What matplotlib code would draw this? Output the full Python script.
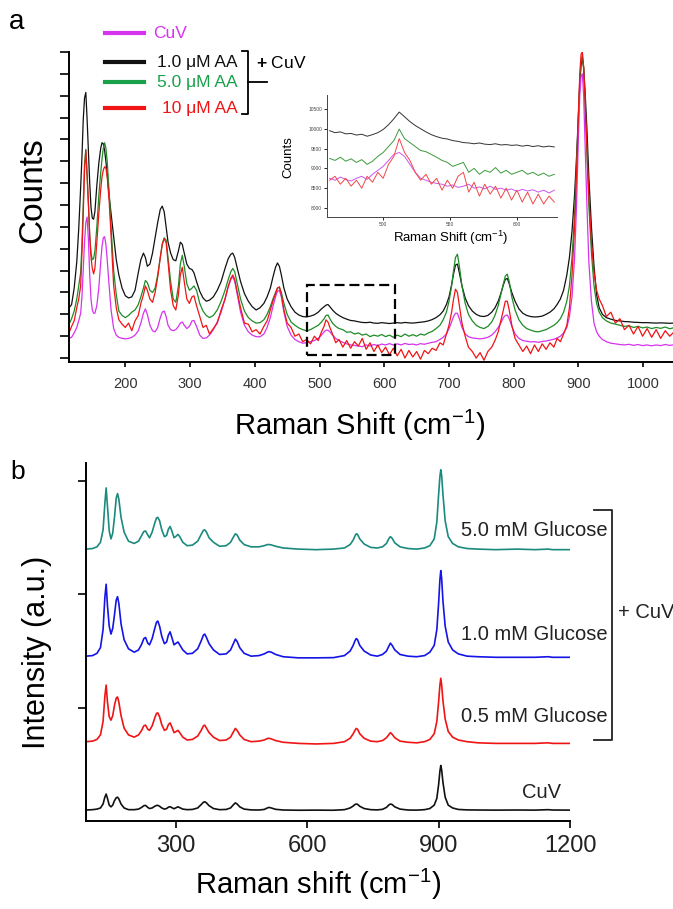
import matplotlib
matplotlib.use('Agg')
import matplotlib.pyplot as plt
from matplotlib.lines import Line2D
from matplotlib.patches import Rectangle
from matplotlib.transforms import Affine2D

plt.rcParams['font.family'] = ['Liberation Sans', 'DejaVu Sans']
plt.rcParams['mathtext.fontset'] = 'custom'
plt.rcParams['mathtext.rm'] = 'Liberation Sans'
plt.rcParams['mathtext.it'] = 'Liberation Sans:italic'
plt.rcParams['mathtext.bf'] = 'Liberation Sans:bold'

# ---------------- Panel a data (counts in thousands) ----------------
shift_a = [
    113, 117, 121, 125, 128, 131, 133, 135, 137, 139,
    141, 143, 145, 147, 149, 151, 153, 156, 159, 162,
    164, 166, 168, 170, 172, 175, 178, 182, 186, 190,
    195, 200, 205, 210, 215, 220, 224, 228, 231, 234,
    238, 242, 246, 250, 254, 257, 260, 263, 266, 270,
    274, 278, 282, 285, 288, 291, 295, 299, 303, 306,
    310, 315, 320, 325, 330, 336, 342, 348, 354, 359,
    363, 366, 369, 373, 378, 384, 390, 396, 402, 408,
    414, 419, 424, 428, 432, 435, 438, 441, 445, 450,
    456, 462, 468, 474, 480, 486, 492, 498, 503, 507,
    510, 513, 516, 520, 525, 530, 536, 542, 548, 554,
    560, 566, 572, 578, 584, 590, 596, 602, 608, 614,
    620, 626, 632, 638, 644, 650, 656, 662, 668, 674,
    680, 686, 691, 696, 700, 704, 707, 710, 713, 716,
    720, 725, 730, 736, 742, 748, 754, 760, 766, 771,
    776, 780, 784, 787, 790, 793, 797, 802, 808, 814,
    820, 826, 832, 838, 844, 850, 856, 862, 867, 872,
    877, 882, 886, 890, 894, 897, 900, 902, 904, 906,
    908, 910, 913, 916, 920, 924, 928, 932, 937, 943,
    950, 957, 964, 971, 978, 985, 992, 999, 1006, 1013,
    1020, 1027, 1034, 1041, 1046]

counts_aa1 = [
    10.29, 10.45, 11.2, 12.4, 13.9, 15.8, 17.2, 18.9, 19.9, 20.15,
    18.9, 17.5, 16.0, 14.9, 14.4, 14.35, 14.7, 15.9, 16.9, 17.6,
    17.85, 17.8, 17.5, 17.0, 16.4, 15.4, 14.6, 13.5, 12.5, 11.8,
    11.2, 10.85, 10.75, 10.8, 11.1, 11.9, 12.5, 12.8, 12.6, 12.2,
    12.3, 12.8, 13.5, 14.2, 14.8, 14.95, 14.7, 14.0, 13.3, 12.8,
    12.5, 12.45, 12.9, 13.3, 13.2, 12.8, 12.3, 12.1, 12.05, 11.9,
    11.5, 11.05, 10.75, 10.6, 10.65, 10.8, 11.1, 11.5, 12.1, 12.55,
    12.75, 12.8, 12.6, 12.1, 11.5, 10.95, 10.6, 10.35, 10.2, 10.3,
    10.5, 10.8, 11.2, 11.7, 12.15, 12.35, 12.2, 11.8, 11.2, 10.7,
    10.35, 10.1, 9.97, 9.9, 9.88, 9.92, 9.98, 10.1, 10.25, 10.35,
    10.42, 10.45, 10.35, 10.2, 10.05, 9.95, 9.85, 9.78, 9.72, 9.7,
    9.66, 9.63, 9.62, 9.64, 9.6, 9.59, 9.62, 9.6, 9.58, 9.6,
    9.62, 9.6, 9.63, 9.61, 9.6, 9.62, 9.64, 9.66, 9.7, 9.76,
    9.85, 9.98, 10.15, 10.45, 10.8, 11.35, 11.85, 12.25, 12.3, 11.9,
    11.3, 10.75, 10.4, 10.15, 10.0, 9.92, 9.9, 9.95, 10.1, 10.3,
    10.6, 10.95, 11.35, 11.6, 11.64, 11.4, 11.0, 10.6, 10.25, 10.05,
    9.95, 9.9, 9.88, 9.89, 9.92, 10.0, 10.1, 10.25, 10.45, 10.7,
    11.1, 11.8, 12.6, 13.8, 15.5, 17.2, 19.2, 20.5, 21.4, 21.7,
    21.3, 20.3, 18.5, 16.3, 14.0, 12.2, 10.9, 10.3, 10.0, 9.85,
    9.78, 9.72, 9.7, 9.67, 9.66, 9.64, 9.63, 9.62, 9.62, 9.61,
    9.6, 9.61, 9.6, 9.59, 9.6]

counts_aa5 = [
    9.55, 9.8, 10.15, 10.7, 11.3, 11.9, 13.2, 15.1, 16.9, 17.55,
    16.3, 15.0, 13.6, 12.8, 12.5, 12.55, 12.9, 14.0, 15.4, 16.5,
    17.1, 17.6, 17.85, 17.6, 17.0, 15.6, 14.0, 12.0, 10.9, 10.15,
    9.95, 9.85, 9.95, 10.1, 10.2, 10.45, 10.8, 11.2, 11.55, 11.45,
    11.1, 11.0, 11.2, 11.8, 12.6, 13.2, 13.5, 13.4, 12.6, 11.5,
    10.7, 10.55, 11.3, 12.3, 12.7, 12.2, 11.4, 11.1, 11.2, 11.3,
    11.1, 10.5, 10.15, 9.95, 9.85, 9.95, 10.2, 10.6, 11.1, 11.6,
    11.95, 12.1, 11.95, 11.4, 10.7, 10.15, 9.85, 9.7, 9.6, 9.62,
    9.75, 10.0, 10.35, 10.7, 11.0, 11.2, 11.25, 11.0, 10.5, 10.0,
    9.65, 9.5, 9.38, 9.3, 9.25, 9.3, 9.4, 9.5, 9.65, 9.8,
    9.95, 9.97, 9.8, 9.6, 9.45, 9.35, 9.3, 9.18, 9.2, 9.1,
    9.15, 9.05, 9.1, 8.98, 9.05, 9.0, 9.08, 8.98, 9.05, 8.95,
    9.05, 8.98, 9.1, 9.0, 9.07, 9.0, 9.1, 9.05, 9.15, 9.22,
    9.35, 9.5, 9.75, 10.1, 10.6, 11.3, 12.0, 12.6, 12.75, 12.2,
    11.3, 10.5, 10.0, 9.7, 9.5, 9.4, 9.35, 9.45, 9.65, 9.95,
    10.4, 10.9, 11.4, 11.75, 11.84, 11.5, 10.8, 10.2, 9.75, 9.5,
    9.35, 9.28, 9.22, 9.2, 9.25, 9.3, 9.4, 9.5, 9.62, 9.8,
    10.1, 10.6, 11.3, 12.6, 14.6, 16.8, 19.2, 20.7, 21.6, 21.85,
    21.2, 19.8, 17.4, 15.0, 12.8, 11.3, 10.5, 10.1, 9.85, 9.7,
    9.6, 9.55, 9.5, 9.45, 9.48, 9.4, 9.45, 9.38, 9.42, 9.35,
    9.4, 9.36, 9.42, 9.34, 9.38]

counts_aa10 = [
    9.15, 9.45, 9.7, 10.3, 10.7, 11.3, 12.8, 14.6, 16.6, 17.5,
    16.4, 15.1, 13.6, 12.6, 12.1, 11.85, 12.1, 13.3, 14.6, 15.7,
    16.3, 16.6, 16.75, 16.7, 16.3, 15.2, 13.6, 11.3, 10.3, 9.75,
    9.55, 9.4, 9.6, 9.25, 9.7, 9.95, 10.5, 10.9, 11.3, 11.1,
    10.7, 10.55, 11.0, 11.7, 12.6, 13.2, 13.45, 13.3, 12.4, 11.1,
    10.4, 10.2, 10.9, 11.8, 12.15, 11.5, 10.7, 10.5, 10.8, 10.85,
    10.4, 9.9, 9.4, 9.5, 9.1, 9.35, 9.6, 10.2, 10.7, 11.3,
    11.65, 11.8, 11.6, 11.0, 10.3, 9.6, 9.55, 9.2, 9.3, 9.1,
    9.45, 9.7, 10.2, 10.6, 10.95, 11.2, 11.25, 10.9, 10.2, 9.6,
    9.4, 9.0, 9.1, 8.75, 8.85, 8.65, 9.0, 8.8, 9.2, 9.45,
    9.75, 9.65, 9.4, 9.1, 8.7, 8.85, 8.5, 8.8, 8.45, 8.75,
    8.55, 8.9, 8.4, 8.7, 8.3, 8.6, 8.25, 8.5, 8.15, 8.45,
    8.1, 8.4, 8.0, 8.35, 8.05, 8.3, 7.95, 8.35, 8.2, 8.45,
    8.35, 8.7, 8.6, 9.1, 9.5, 10.1, 10.7, 11.15, 11.0, 10.4,
    9.6, 9.0, 8.5, 8.3, 8.0, 8.25, 7.9, 8.3, 8.5, 8.8,
    9.2, 9.7, 10.2, 10.6, 10.6, 10.2, 9.5, 8.9, 8.6, 8.3,
    8.55, 8.2, 8.6, 8.3, 8.65, 8.4, 8.7, 8.5, 8.9, 8.75,
    9.1, 9.5, 10.3, 11.8, 14.0, 16.5, 19.3, 21.0, 21.9, 22.0,
    21.3, 19.9, 17.6, 15.4, 13.3, 11.9, 11.1, 10.7, 10.4, 9.9,
    10.1, 9.6, 9.8, 9.3, 9.5, 9.1, 9.45, 9.0, 9.35, 8.95,
    9.3, 8.9, 9.25, 9.0, 9.15]

counts_cuv = [
    8.9, 8.95, 9.15, 9.4, 9.7, 10.05, 10.8, 12.0, 13.3, 14.2,
    14.45, 13.4, 11.8, 10.7, 10.2, 10.05, 10.05, 10.4, 11.2, 12.4,
    13.1, 13.5, 13.55, 13.2, 12.5, 11.3, 10.2, 9.35, 9.05, 8.95,
    8.9, 8.88, 8.9, 8.95, 9.05, 9.25, 9.6, 10.05, 10.25, 10.0,
    9.5, 9.25, 9.2, 9.4, 9.85, 10.1, 10.15, 9.9, 9.5, 9.3,
    9.25, 9.3, 9.45, 9.6, 9.65, 9.5, 9.35, 9.45, 9.7, 9.72,
    9.45, 9.05, 8.9, 8.92, 9.05, 9.3, 9.65, 10.1, 10.7, 11.25,
    11.6, 11.72, 11.5, 10.9, 10.1, 9.5, 9.2, 9.05, 8.98, 8.97,
    9.1, 9.4, 9.85, 10.35, 10.8, 11.05, 11.1, 10.8, 10.1, 9.45,
    9.05, 8.85, 8.75, 8.68, 8.7, 8.75, 8.8, 8.9, 9.05, 9.2,
    9.27, 9.28, 9.2, 9.05, 8.9, 8.8, 8.72, 8.65, 8.6, 8.58,
    8.55, 8.52, 8.6, 8.55, 8.62, 8.57, 8.64, 8.6, 8.66, 8.6,
    8.65, 8.6, 8.67, 8.62, 8.64, 8.6, 8.66, 8.63, 8.68, 8.72,
    8.75, 8.85, 8.95, 9.1, 9.35, 9.65, 9.9, 10.05, 10.05, 9.8,
    9.4, 9.1, 8.98, 8.92, 8.9, 8.88, 8.9, 8.95, 9.05, 9.2,
    9.4, 9.6, 9.85, 9.95, 9.97, 9.8, 9.45, 9.1, 8.9, 8.8,
    8.77, 8.74, 8.75, 8.72, 8.76, 8.78, 8.82, 8.86, 8.92, 9.0,
    9.15, 9.4, 9.9, 10.8, 12.6, 15.0, 18.2, 20.0, 20.9, 21.0,
    20.0, 18.0, 15.0, 12.4, 10.6, 9.6, 9.2, 9.0, 8.85, 8.75,
    8.68, 8.65, 8.62, 8.6, 8.63, 8.58, 8.62, 8.57, 8.6, 8.56,
    8.6, 8.57, 8.62, 8.58, 8.6]

# ---------------- Inset data (counts) ----------------
shift_inset = [
    460, 464, 468, 472, 476, 480, 484, 488, 492, 496,
    500, 504, 508, 512, 516, 520, 524, 528, 532, 536,
    540, 544, 548, 552, 556, 560, 564, 568, 572, 576,
    580, 584, 588, 592, 596, 600, 604, 608, 612, 616,
    620, 624, 628]
inset_aa1 = [
    9950, 9900, 9920, 9870, 9880, 9840, 9860, 9810, 9850, 9900,
    9980, 10100, 10250, 10420, 10300, 10180, 10080, 10000, 9920, 9850,
    9800, 9760, 9740, 9700, 9680, 9650, 9640, 9620, 9640, 9610,
    9600, 9620, 9590, 9600, 9580, 9590, 9560, 9580, 9550, 9570,
    9540, 9560, 9540]
inset_aa5 = [
    9250, 9200, 9280, 9180, 9240, 9150, 9220, 9100, 9180, 9300,
    9400, 9550, 9700, 9990, 9750, 9650, 9550, 9450, 9420, 9350,
    9280, 9200, 9150, 9050, 9100, 9150, 8900, 9000, 8850, 8950,
    8900, 9020, 8880, 8950, 8850, 8900, 8950, 8850, 8900, 8820,
    8880, 8800, 8850]
inset_aa10 = [
    8700, 8800, 8600, 8750, 8550, 8700, 8500, 8800, 8650, 8900,
    8750, 9100, 9300, 9750, 9400, 9200, 8900, 8700, 8850, 8600,
    8750, 8450, 8700, 8500, 8800, 8900, 8400, 8650, 8300, 8600,
    8350, 8550, 8250, 8500, 8200, 8450, 8150, 8400, 8100, 8350,
    8100, 8300, 8150]
inset_cuv = [
    8750, 8700, 8780, 8720, 8680, 8750, 8800, 8720, 8850, 8950,
    9050, 9200, 9350, 9400, 9300, 9100, 8900, 8750, 8700, 8650,
    8620, 8600, 8550, 8580, 8520, 8550, 8600, 8500, 8530, 8480,
    8550, 8470, 8500, 8450, 8480, 8420, 8470, 8430, 8460, 8400,
    8450, 8380, 8450]

# ---------------- Panel b data (a.u.) ----------------
shift_b = [
    95, 110, 120, 128, 134, 138, 141, 144, 148, 152,
    156, 160, 164, 167, 170, 175, 182, 192, 205, 215,
    222, 227, 231, 236, 240, 246, 252, 256, 259, 263,
    268, 274, 279, 283, 287, 291, 296, 301, 305, 309,
    316, 326, 338, 350, 358, 363, 366, 370, 376, 386,
    400, 415, 425, 432, 436, 440, 446, 456, 472, 490,
    502, 509, 513, 518, 528, 545, 580, 620, 660, 685,
    698, 705, 709, 712, 715, 720, 730, 745, 760, 772,
    781, 786, 790, 794, 800, 812, 830, 850, 868, 880,
    890, 896, 900, 903, 905, 907, 910, 915, 922, 932,
    945, 965, 990, 1030, 1080, 1120, 1150, 1160, 1200]

int_cuv = [
    0.097, 0.10, 0.105, 0.115, 0.15, 0.21, 0.238, 0.20, 0.14, 0.125,
    0.14, 0.18, 0.205, 0.21, 0.195, 0.15, 0.115, 0.10, 0.10, 0.105,
    0.12, 0.135, 0.138, 0.12, 0.11, 0.115, 0.13, 0.137, 0.138, 0.13,
    0.115, 0.105, 0.11, 0.122, 0.126, 0.118, 0.108, 0.118, 0.125, 0.118,
    0.105, 0.10, 0.102, 0.115, 0.145, 0.165, 0.17, 0.16, 0.135, 0.11,
    0.10, 0.102, 0.115, 0.145, 0.16, 0.15, 0.125, 0.105, 0.098, 0.097,
    0.102, 0.115, 0.12, 0.115, 0.103, 0.097, 0.095, 0.096, 0.095, 0.10,
    0.115, 0.132, 0.145, 0.15, 0.147, 0.13, 0.11, 0.10, 0.098, 0.103,
    0.12, 0.14, 0.15, 0.145, 0.125, 0.105, 0.097, 0.096, 0.10, 0.11,
    0.14, 0.20, 0.32, 0.44, 0.49, 0.45, 0.34, 0.21, 0.14, 0.115,
    0.102, 0.098, 0.097, 0.096, 0.097, 0.096, 0.10, 0.097, 0.096]

int_g05 = [
    0.70, 0.705, 0.72, 0.76, 0.88, 1.10, 1.20, 1.05, 0.92, 0.89,
    0.93, 1.02, 1.085, 1.095, 1.05, 0.93, 0.82, 0.76, 0.74, 0.76,
    0.80, 0.84, 0.846, 0.81, 0.80, 0.84, 0.91, 0.95, 0.954, 0.92,
    0.85, 0.80, 0.81, 0.85, 0.866, 0.83, 0.78, 0.79, 0.80, 0.78,
    0.74, 0.715, 0.72, 0.75, 0.80, 0.84, 0.846, 0.82, 0.78, 0.74,
    0.71, 0.715, 0.74, 0.79, 0.817, 0.80, 0.76, 0.72, 0.70, 0.705,
    0.715, 0.728, 0.73, 0.725, 0.71, 0.695, 0.685, 0.68, 0.685, 0.70,
    0.73, 0.77, 0.80, 0.817, 0.81, 0.77, 0.73, 0.705, 0.70, 0.71,
    0.735, 0.76, 0.78, 0.765, 0.735, 0.705, 0.695, 0.69, 0.70, 0.72,
    0.77, 0.88, 1.05, 1.20, 1.26, 1.20, 1.06, 0.90, 0.79, 0.74,
    0.715, 0.70, 0.69, 0.685, 0.685, 0.685, 0.69, 0.685, 0.685]

int_g10 = [
    1.455, 1.46, 1.48, 1.53, 1.69, 1.97, 2.09, 1.90, 1.72, 1.65,
    1.70, 1.82, 1.95, 1.98, 1.92, 1.74, 1.60, 1.52, 1.49, 1.51,
    1.56, 1.61, 1.62, 1.57, 1.555, 1.61, 1.70, 1.755, 1.765, 1.72,
    1.63, 1.565, 1.58, 1.64, 1.67, 1.62, 1.555, 1.57, 1.58, 1.555,
    1.51, 1.475, 1.48, 1.52, 1.59, 1.64, 1.65, 1.62, 1.565, 1.51,
    1.47, 1.475, 1.51, 1.57, 1.605, 1.585, 1.53, 1.48, 1.455, 1.46,
    1.475, 1.49, 1.495, 1.49, 1.47, 1.45, 1.44, 1.44, 1.442, 1.46,
    1.50, 1.55, 1.59, 1.61, 1.60, 1.55, 1.50, 1.465, 1.455, 1.47,
    1.50, 1.54, 1.57, 1.55, 1.51, 1.47, 1.455, 1.45, 1.46, 1.49,
    1.55, 1.69, 1.92, 2.13, 2.21, 2.14, 1.94, 1.72, 1.58, 1.51,
    1.475, 1.455, 1.45, 1.445, 1.445, 1.445, 1.45, 1.445, 1.445]

int_g50 = [
    2.40, 2.405, 2.42, 2.46, 2.57, 2.80, 2.94, 2.78, 2.56, 2.49,
    2.54, 2.68, 2.85, 2.89, 2.84, 2.68, 2.55, 2.47, 2.45, 2.47,
    2.52, 2.555, 2.56, 2.525, 2.50, 2.55, 2.63, 2.675, 2.68, 2.65,
    2.57, 2.51, 2.52, 2.575, 2.60, 2.56, 2.50, 2.515, 2.53, 2.51,
    2.46, 2.43, 2.435, 2.47, 2.53, 2.565, 2.57, 2.55, 2.50, 2.46,
    2.425, 2.43, 2.46, 2.51, 2.535, 2.525, 2.48, 2.44, 2.42, 2.42,
    2.43, 2.44, 2.44, 2.437, 2.425, 2.41, 2.40, 2.395, 2.40, 2.41,
    2.44, 2.48, 2.515, 2.535, 2.53, 2.49, 2.445, 2.415, 2.41, 2.42,
    2.45, 2.49, 2.51, 2.495, 2.455, 2.42, 2.405, 2.40, 2.41, 2.43,
    2.49, 2.64, 2.88, 3.04, 3.10, 3.05, 2.88, 2.65, 2.51, 2.45,
    2.42, 2.405, 2.40, 2.395, 2.40, 2.395, 2.40, 2.395, 2.395]

labels_a = ['CuV', '1.0 \u03bcM AA', '5.0 \u03bcM AA', '10 \u03bcM AA']
labels_b = ['5.0 mM Glucose', '1.0 mM Glucose', '0.5 mM Glucose', 'CuV']

C_MAG = '#D633EE'
C_GRN = '#1E8C26'
C_GRN_T = '#1AA04A'
C_RED = '#F01414'
C_BLK = '#111111'
C_TEAL = '#1B8A7E'
C_BLUE = '#1414E6'

W, H = 673, 909
fig = plt.figure(figsize=(W / 100, H / 100), dpi=100)
pxT = Affine2D().scale(1 / W, -1 / H).translate(0, 1) + fig.transFigure


def frac(l, t, r, b):
    return [l / W, 1 - b / H, (r - l) / W, (b - t) / H]


def pline(xs, ys, **kw):
    fig.add_artist(Line2D(xs, ys, transform=pxT, **kw))


def ptext(x, y, s, **kw):
    fig.text(x, y, s, transform=pxT, **kw)


# ---------------- Panel a ----------------
ax = fig.add_axes(frac(69, 52, 673, 362))
ax.plot(shift_a, counts_aa1, color=C_BLK, lw=0.9)
ax.plot(shift_a, counts_aa5, color=C_GRN, lw=0.9)
ax.plot(shift_a, counts_cuv, color=C_MAG, lw=0.9)
ax.plot(shift_a, counts_aa10, color=C_RED, lw=0.9)
ax.set_xlim(113, 1046)
ax.set_ylim(7.82, 22.0)
ax.set_xticks([200, 300, 400, 500, 600, 700, 800, 900, 1000])
ax.set_yticks(list(range(8, 23)))
ax.set_yticklabels([])
ax.tick_params(axis='y', direction='out', length=6.5, width=1.2)
ax.tick_params(axis='x', direction='out', length=3.5, width=1.2,
               labelsize=10.5, labelcolor='#333333', pad=7)
for s in ['top', 'right']:
    ax.spines[s].set_visible(False)
for s in ['left', 'bottom']:
    ax.spines[s].set_linewidth(1.4)
ax.add_patch(Rectangle((480, 8.14), 137, 3.2, fill=False, lw=1.6,
                       ls=(0, (4.5, 2.2)), ec='black', zorder=5))

ptext(360, 425, 'Raman Shift (cm$^{-1}$)', fontsize=21, ha='center', va='center')
ptext(33, 190, 'Counts', fontsize=24, rotation=90, ha='center', va='center')
ptext(17, 22, 'a', fontsize=20, ha='center', va='center')

# legend (manual)
leg_y = [33, 62, 82, 108]
leg_c = [C_MAG, C_BLK, C_GRN_T, C_RED]
for yy, cc in zip(leg_y, leg_c):
    pline([105, 144], [yy, yy], color=cc, lw=3)
ptext(153, 33, labels_a[0], color=C_MAG, fontsize=12.5, ha='left', va='center')
ptext(238, 62, labels_a[1], color=C_BLK, fontsize=12.5, ha='right', va='center')
ptext(238, 82, labels_a[2], color=C_GRN_T, fontsize=12.5, ha='right', va='center')
ptext(238, 108, labels_a[3], color=C_RED, fontsize=12.5, ha='right', va='center')
pline([242, 248, 248, 242], [51, 51, 114, 114], color='black', lw=1.3)
pline([248, 267], [82, 82], color='black', lw=1.3)
ptext(256, 63, '$\\mathbf{+}$ CuV', fontsize=12.5, ha='left', va='center')

# ---------------- Inset ----------------
axi = fig.add_axes(frac(327, 95, 557, 217))
axi.plot(shift_inset, inset_aa1, color='#333333', lw=0.7)
axi.plot(shift_inset, inset_aa5, color='#3C9A3C', lw=0.7)
axi.plot(shift_inset, inset_cuv, color='#CC55EE', lw=0.7)
axi.plot(shift_inset, inset_aa10, color='#F04848', lw=0.7)
axi.set_xlim(458, 630)
axi.set_ylim(7773, 10850)
axi.set_xticks([500, 550, 600])
axi.set_yticks([8000, 8500, 9000, 9500, 10000, 10500])
axi.tick_params(labelsize=3.5, length=2, width=0.6, pad=1.5, labelcolor='#444444')
for s in ['top', 'right']:
    axi.spines[s].set_visible(False)
for s in ['left', 'bottom']:
    axi.spines[s].set_linewidth(0.7)
    axi.spines[s].set_color('#444444')
axi.patch.set_alpha(0)
ptext(451, 238, 'Raman Shift (cm$^{-1}$)', fontsize=9.5, ha='center', va='center')
ptext(288, 157, 'Counts', fontsize=9.5, rotation=90, ha='center', va='center')

# ---------------- Panel b ----------------
bx = fig.add_axes(frac(86, 463, 570, 821))
bx.plot(shift_b, int_cuv, color=C_BLK, lw=1.2)
bx.plot(shift_b, int_g05, color=C_RED, lw=1.2)
bx.plot(shift_b, int_g10, color=C_BLUE, lw=1.2)
bx.plot(shift_b, int_g50, color=C_TEAL, lw=1.2)
bx.set_xlim(95, 1200)
bx.set_ylim(0, 3.16)
bx.set_xticks([300, 600, 900, 1200])
bx.set_yticks([1, 2, 3])
bx.set_yticklabels([])
bx.tick_params(axis='y', direction='out', length=6, width=1.2)
bx.tick_params(axis='x', direction='out', length=5, width=1.2,
               labelsize=17, labelcolor='#222222', pad=5)
for s in ['top', 'right']:
    bx.spines[s].set_visible(False)
for s in ['left', 'bottom']:
    bx.spines[s].set_linewidth(1.4)

ptext(318, 884, 'Raman shift (cm$^{-1}$)', fontsize=21, ha='center', va='center')
ptext(37, 652, 'Intensity (a.u.)', fontsize=22, rotation=90, ha='center', va='center')
ptext(18, 472, 'b', fontsize=19, ha='center', va='center')

ptext(608, 531, labels_b[0], fontsize=14.5, ha='right', va='center', color='#222222')
ptext(608, 634, labels_b[1], fontsize=14.5, ha='right', va='center', color='#222222')
ptext(608, 717, labels_b[2], fontsize=14.5, ha='right', va='center', color='#222222')
ptext(561, 792, labels_b[3], fontsize=14.5, ha='right', va='center', color='#222222')
pline([594, 612, 612, 594], [510, 510, 740, 740], color='#222222', lw=1.3)
ptext(618, 613, '+ CuV', fontsize=14.5, ha='left', va='center', color='#222222')

fig.savefig('out.png', dpi=100)
